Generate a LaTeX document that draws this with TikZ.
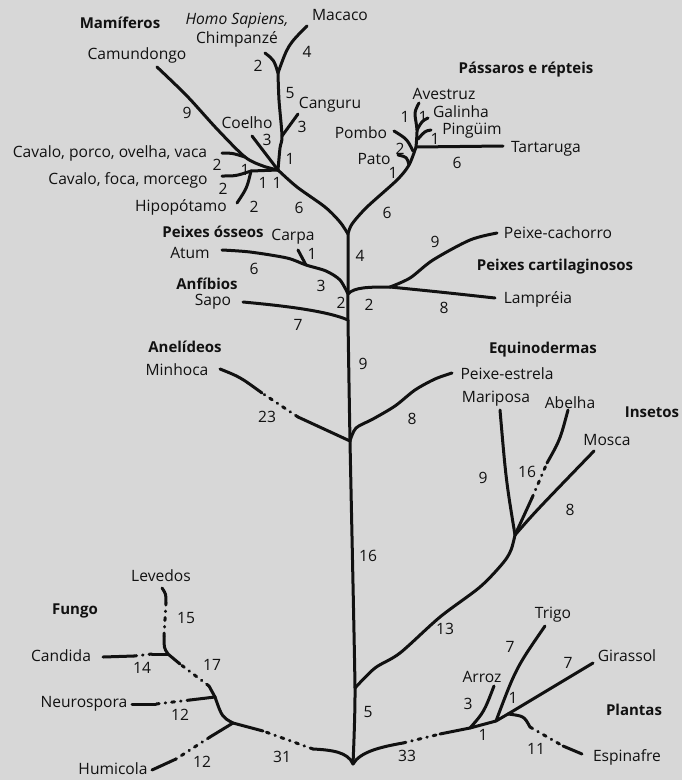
\documentclass[tikz,border=0pt]{standalone}
\usepackage{fontspec}
\setmainfont{Open Sans}
\definecolor{bgc}{RGB}{215,215,215}
\definecolor{ink}{RGB}{17,17,17}
\begin{document}
\begin{tikzpicture}[x=1pt,y=-1pt,
  br/.style={draw=ink,line width=3pt,line cap=round,line join=round},
  dsh/.style={br,dash pattern=on 3pt off 6pt on 0.5pt off 6pt},
  lbl/.style={font=\fontsize{15.6}{17}\selectfont,inner sep=0pt,text=ink},
  grp/.style={font=\fontsize{15}{17}\selectfont\bfseries,inner sep=0pt,text=ink},
  num/.style={lbl}]
\fill[bgc] (0,0) rectangle (682,780);
\useasboundingbox (0,0) rectangle (682,780);

% ---------- trunk ----------
\coordinate (root) at (353,764);
\coordinate (insJ) at (355,688);
\coordinate (anJ) at (350,441);
\coordinate (sapoJ) at (348,320);
\coordinate (fishJ) at (348,294);
\coordinate (topJ) at (348,234);
\draw[br] plot[smooth,tension=0.3] coordinates {(root) (insJ) (anJ) (sapoJ) (fishJ) (topJ)};

% ---------- fungi ----------
\coordinate (fA) at (313,749);
\coordinate (fB) at (263,731);
\coordinate (fN) at (233,723);
\coordinate (fH1) at (210,737);
\coordinate (fH2) at (176,759);
\coordinate (hum) at (152,770);
\coordinate (fN2) at (215,697);
\coordinate (neu1) at (190,700);
\coordinate (neu2) at (156,704);
\coordinate (neu) at (132,704);
\coordinate (fc1) at (209,686);
\coordinate (fc2) at (180,664);
\coordinate (fN3) at (168,654);
\coordinate (can1) at (152,654);
\coordinate (can2) at (134,656);
\coordinate (can) at (103,657);
\coordinate (lev1) at (164,636);
\coordinate (lev2) at (166,603);
\coordinate (lev) at (162,588);
\draw[br] (root) .. controls (348,752) and (332,750) .. (fA);
\draw[dsh] (fA) -- (fB);
\draw[br] (fB) -- (fN);
\draw[br] (fN) -- (fH1);
\draw[dsh] (fH1) -- (fH2);
\draw[br] (fH2) -- (hum);
\draw[br] (fN) .. controls (222,717) .. (fN2);
\draw[br] (fN2) -- (neu1);
\draw[dsh] (neu1) -- (neu2);
\draw[br] (neu2) -- (neu);
\draw[br] (fN2) -- (fc1);
\draw[dsh] (fc1) -- (fc2);
\draw[br] (fc2) -- (fN3);
\draw[br] (fN3) -- (can1);
\draw[dsh] (can1) -- (can2);
\draw[br] (can2) -- (can);
\draw[br] (fN3) .. controls (164,648) .. (lev1);
\draw[dsh] (lev1) -- (lev2);
\draw[br] (lev2) .. controls (166,594) .. (lev);

% ---------- plants ----------
\coordinate (pA) at (403,743);
\coordinate (pB) at (440,734);
\coordinate (pN) at (470,728);
\coordinate (arroz) at (494,686);
\coordinate (pN2) at (496,721);
\coordinate (trigo) at (545,626);
\coordinate (pN3) at (508,714);
\coordinate (girassol) at (593,663);
\coordinate (esp1) at (530,727);
\coordinate (esp2) at (563,746);
\coordinate (esp) at (582,754);
\draw[br] (root) .. controls (360,752) and (380,747) .. (pA);
\draw[dsh] (pA) -- (pB);
\draw[br] (pB) -- (pN);
\draw[br] (pN) .. controls (484,712) .. (arroz);
\draw[br] (pN) -- (pN2) -- (pN3);
\draw[br] (pN2) .. controls (516,668) .. (trigo);
\draw[br] (pN3) -- (girassol);
\draw[br] (pN3) .. controls (524,716) .. (esp1);
\draw[dsh] (esp1) -- (esp2);
\draw[br] (esp2) -- (esp);

% ---------- insects ----------
\coordinate (insN) at (515,535);
\coordinate (mariposa) at (500,410);
\coordinate (ab1) at (532,498);
\coordinate (ab2) at (547,463);
\coordinate (abelha) at (568,410);
\coordinate (mosca) at (594,451);
\draw[br] plot[smooth,tension=0.5] coordinates {(insJ) (375,668) (400,653) (440,617) (480,587) (503,563) (511,550) (insN)};
\draw[br] (insN) .. controls (506,480) .. (mariposa);
\draw[br] (insN) -- (ab1);
\draw[dsh] (ab1) -- (ab2);
\draw[br] (ab2) .. controls (560,440) .. (abelha);
\draw[br] (insN) .. controls (535,512) .. (mosca);

% ---------- annelids / echinoderms ----------
\coordinate (an1) at (298,417);
\coordinate (an2) at (262,393);
\coordinate (minhoca) at (220,369);
\coordinate (estrela) at (452,373);
\draw[br] (anJ) -- (an1);
\draw[dsh] (an1) -- (an2);
\draw[br] (an2) .. controls (240,377) .. (minhoca);
\draw[br] plot[smooth,tension=0.5] coordinates {(anJ) (356,428) (373,419) (395,406) (415,390) (435,379) (estrela)};

% ---------- amphibians / bony fish ----------
\coordinate (sapo) at (243,302);
\coordinate (carpaJ) at (306,265);
\coordinate (carpa) at (298,250);
\coordinate (atum) at (222,250);
\draw[br] (sapoJ) .. controls (325,310) and (275,305) .. (sapo);
\draw[br] plot[smooth,tension=0.5] coordinates {(fishJ) (340,280) (326,271) (carpaJ) (287,258) (250,252) (atum)};
\draw[br] (carpaJ) .. controls (302,258) .. (carpa);

% ---------- cartilaginous fish ----------
\coordinate (cartN) at (390,287);
\coordinate (cachorro) at (497,233);
\coordinate (lampreia) at (495,298);
\draw[br] (fishJ) .. controls (354,287) and (370,287) .. (cartN);
\draw[br] plot[smooth,tension=0.5] coordinates {(cartN) (410,278) (433,260) (470,240) (cachorro)};
\draw[br] (cartN) .. controls (440,292) .. (lampreia);

% ---------- mammals ----------
\coordinate (mamN) at (278,170);
\coordinate (subN) at (251,171);
\coordinate (cavfoca) at (222,176);
\coordinate (hipo) at (237,203);
\coordinate (cpJ) at (245,157);
\coordinate (cavporco) at (222,153);
\coordinate (camundongo) at (157,67);
\coordinate (coelho) at (252,136);
\coordinate (m1) at (282,136);
\coordinate (apeJ) at (278,73);
\coordinate (canguru) at (298,114);
\coordinate (macaco) at (307,26);
\coordinate (chimp) at (265,53);
\draw[br] plot[smooth,tension=0.5] coordinates {(topJ) (340,222) (325,207) (297,187) (mamN)};
\draw[br] (mamN) -- (subN);
\draw[br] (subN) .. controls (236,176) .. (cavfoca);
\draw[br] (subN) .. controls (247,188) .. (hipo);
\draw[br] plot[smooth,tension=0.5] coordinates {(mamN) (263,166) (cpJ) (217,129) (187,96) (camundongo)};
\draw[br] (cpJ) .. controls (232,153) .. (cavporco);
\draw[br] (mamN) -- (coelho);
\draw[br] plot[smooth,tension=0.5] coordinates {(mamN) (280,148) (m1) (279,100) (apeJ)};
\draw[br] (m1) -- (canguru);
\draw[br] (apeJ) .. controls (288,45) .. (macaco);
\draw[br] (apeJ) .. controls (274,60) .. (chimp);

% ---------- birds & reptiles ----------
\coordinate (birdN) at (416,147);
\coordinate (birdP) at (409,165);
\coordinate (pato) at (398,155);
\coordinate (pomJ) at (413,151);
\coordinate (pombo) at (394,131);
\coordinate (tart) at (503,146);
\coordinate (galJ) at (417,130);
\coordinate (galinha) at (428,118);
\coordinate (pinJ) at (418,139);
\coordinate (pinguim) at (431,130);
\coordinate (avestruz) at (419,103);
\draw[br] plot[smooth,tension=0.5] coordinates {(topJ) (352,224) (367,207) (397,180) (birdP) (birdN)};
\draw[br] (birdP) .. controls (407,157) .. (pato);
\draw[br] (pomJ) .. controls (407,139) .. (pombo);
\draw[br] (birdN) -- (tart);
\draw[br] plot[smooth,tension=0.5] coordinates {(birdN) (417,130) (415,113) (avestruz)};
\draw[br] (galJ) .. controls (422,121) .. (galinha);
\draw[br] (pinJ) .. controls (425,131) .. (pinguim);

% ---------- group titles ----------
\node[grp] (gMam) at (120,23) {Mamíferos};
\node[grp] (gAves) at (526,70) {Pássaros e répteis};
\node[grp] (gOsseo) at (213,232) {Peixes ósseos};
\node[grp] (gAnf) at (207,284) {Anfíbios};
\node[grp] (gCart) at (555,267) {Peixes cartilaginosos};
\node[grp] (gAnel) at (185,347) {Anelídeos};
\node[grp] (gEqui) at (543,350) {Equinodermas};
\node[grp] (gIns) at (652,412) {Insetos};
\node[grp] (gFun) at (75,611) {Fungo};
\node[grp] (gPla) at (634,710) {Plantas};

% ---------- leaf labels ----------
\node[lbl] (tHomo) at (237,21) {\itshape Homo Sapiens,};
\node[lbl] (tChimp) at (237,39) {Chimpanzé};
\node[lbl] (tMac) at (340,15) {Macaco};
\node[lbl] (tCam) at (137,55) {Camundongo};
\node[lbl] (tCang) at (330,105) {Canguru};
\node[lbl] (tCoe) at (247,123) {Coelho};
\node[lbl] (tCpo) at (110,153) {Cavalo, porco, ovelha, vaca};
\node[lbl] (tCfm) at (128,180) {Cavalo, foca, morcego};
\node[lbl] (tHip) at (181,207) {Hipopótamo};
\node[lbl] (tAve) at (444,94) {Avestruz};
\node[lbl] (tGal) at (461,112) {Galinha};
\node[lbl] (tPin) at (472,131) {Pingüim};
\node[lbl] (tPom) at (361,133) {Pombo};
\node[lbl] (tPat) at (374,159) {Pato};
\node[lbl] (tTar) at (546,149) {Tartaruga};
\node[lbl] (tCarp) at (293,237) {Carpa};
\node[lbl] (tAtum) at (190,253) {Atum};
\node[lbl] (tSapo) at (213,302) {Sapo};
\node[lbl] (tMin) at (177,370) {Minhoca};
\node[lbl] (tCach) at (558,233) {Peixe-cachorro};
\node[lbl] (tLamp) at (538,299) {Lampréia};
\node[lbl] (tEst) at (507,374) {Peixe-estrela};
\node[lbl] (tMar) at (496,399) {Mariposa};
\node[lbl] (tAbe) at (570,403) {Abelha};
\node[lbl] (tMos) at (607,440) {Mosca};
\node[lbl] (tTri) at (553,615) {Trigo};
\node[lbl] (tGir) at (627,656) {Girassol};
\node[lbl] (tArr) at (482,677) {Arroz};
\node[lbl] (tEsp) at (627,757) {Espinafre};
\node[lbl] (tLev) at (161,576) {Levedos};
\node[lbl] (tCand) at (61,656) {Candida};
\node[lbl] (tNeu) at (84,704) {Neurospora};
\node[lbl] (tHum) at (113,769) {Humicola};

% ---------- branch lengths ----------
\node[num] (n1) at (307,52) {4};
\node[num] (n2) at (258,66) {2};
\node[num] (n3) at (290,93) {5};
\node[num] (n4) at (302,127) {3};
\node[num] (n5) at (267,140) {3};
\node[num] (n6) at (187,113) {9};
\node[num] (n7) at (290,159) {1};
\node[num] (n8) at (217,165) {2};
\node[num] (n9) at (245,170) {1};
\node[num] (n10) at (223,189) {2};
\node[num] (n11) at (263,183) {1};
\node[num] (n12) at (277,183) {1};
\node[num] (n13) at (254,207) {2};
\node[num] (n14) at (299,208) {6};
\node[num] (n15) at (405,117) {1};
\node[num] (n16) at (423,117) {1};
\node[num] (n17) at (435,139) {1};
\node[num] (n18) at (400,149) {2};
\node[num] (n19) at (393,173) {1};
\node[num] (n20) at (457,163) {6};
\node[num] (n21) at (387,213) {6};
\node[num] (n22) at (312,254) {1};
\node[num] (n23) at (254,269) {6};
\node[num] (n24) at (321,286) {3};
\node[num] (n25) at (341,303) {2};
\node[num] (n26) at (369,305) {2};
\node[num] (n27) at (298,325) {7};
\node[num] (n28) at (360,256) {4};
\node[num] (n29) at (435,242) {9};
\node[num] (n30) at (444,308) {8};
\node[num] (n31) at (363,364) {9};
\node[num] (n32) at (267,417) {23};
\node[num] (n33) at (412,419) {8};
\node[num] (n34) at (483,478) {9};
\node[num] (n35) at (527,472) {16};
\node[num] (n36) at (570,510) {8};
\node[num] (n37) at (368,556) {16};
\node[num] (n38) at (445,629) {13};
\node[num] (n39) at (368,712) {5};
\node[num] (n40) at (510,647) {7};
\node[num] (n41) at (568,663) {7};
\node[num] (n42) at (468,704) {3};
\node[num] (n43) at (513,698) {1};
\node[num] (n44) at (483,735) {1};
\node[num] (n45) at (407,756) {33};
\node[num] (n46) at (536,749) {11};
\node[num] (n47) at (186,618) {15};
\node[num] (n48) at (142,668) {14};
\node[num] (n49) at (212,665) {17};
\node[num] (n50) at (180,715) {12};
\node[num] (n51) at (202,762) {12};
\node[num] (n52) at (282,757) {31};
\end{tikzpicture}
\end{document}
